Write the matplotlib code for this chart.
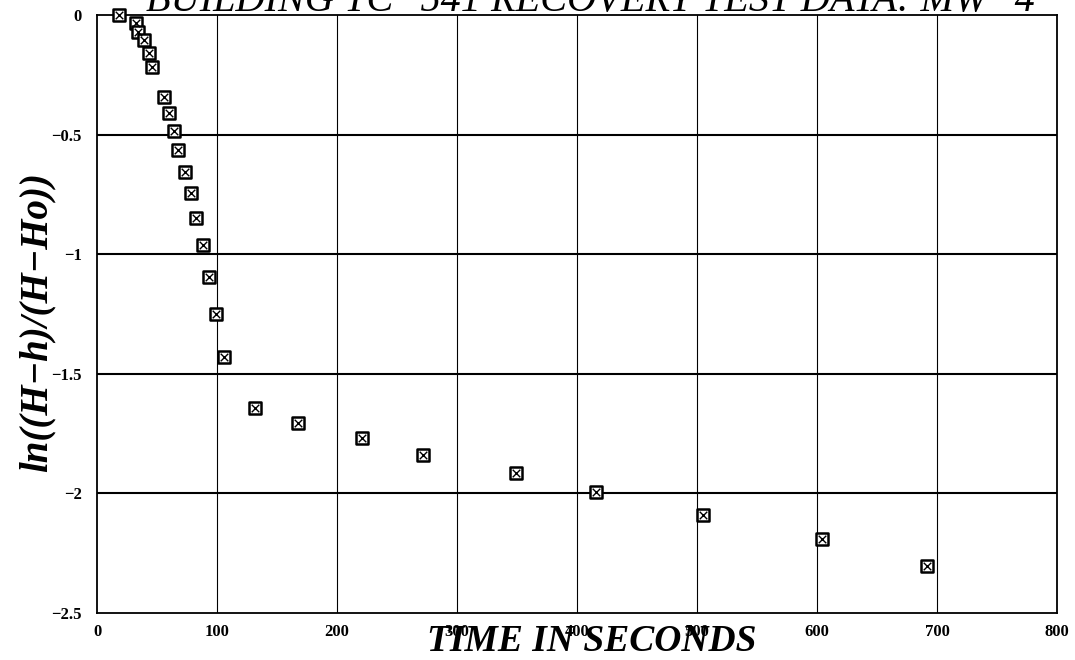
import matplotlib
matplotlib.use("Agg")
import matplotlib.pyplot as plt

time_s = [18, 32.5, 34.5, 38.8, 43.2, 45.6, 56.2, 59.8, 64.5, 67.5, 73.7, 78.0,
          82.5, 88.4, 93.1, 99.2, 105.6, 132, 167.8, 220.6, 271.4, 349, 416,
          505.2, 604, 691.4]
ln_ratio = [0.0, -0.032, -0.07, -0.105, -0.16, -0.219, -0.342, -0.411, -0.484,
            -0.565, -0.655, -0.744, -0.85, -0.962, -1.097, -1.248, -1.428,
            -1.644, -1.704, -1.769, -1.839, -1.913, -1.996, -2.089, -2.19, -2.304]

x_ticks = [0, 100, 200, 300, 400, 500, 600, 700, 800]
y_ticks = [0, -0.5, -1, -1.5, -2, -2.5]
y_tick_labels = ["0", "\u22120.5", "\u22121", "\u22121.5", "\u22122", "\u22122.5"]

title = "BUILDING TC\u2212541 RECOVERY TEST DATA: MW\u22124"
xlabel = "TIME IN SECONDS"
ylabel = "ln((H\u2212h)/(H\u2212Ho))"

serif = ["Liberation Serif", "DejaVu Serif"]

fig = plt.figure(figsize=(10.75, 6.6), dpi=100)
ax = fig.add_axes([97 / 1075, 1 - 613 / 660, (1057 - 97) / 1075, (613 - 15) / 660])

ax.set_xlim(0, 800)
ax.set_ylim(-2.5, 0)
ax.set_xticks(x_ticks)
ax.set_yticks(y_ticks)
ax.set_xticklabels([str(t) for t in x_ticks], fontfamily=serif, fontweight="bold", fontsize=12)
ax.set_yticklabels(y_tick_labels, fontfamily=serif, fontweight="bold", fontsize=12)
ax.tick_params(axis="both", length=0)
ax.tick_params(axis="x", pad=8)
ax.tick_params(axis="y", pad=11)

for t in x_ticks[1:-1]:
    ax.axvline(t, color="black", lw=0.8, zorder=1)
for t in y_ticks[1:-1]:
    ax.axhline(t, color="black", lw=1.5, zorder=1)
for s in ax.spines.values():
    s.set_linewidth(1.3)
    s.set_color("black")

ax.scatter(time_s, ln_ratio, marker="s", s=70, facecolors="white",
           edgecolors="black", linewidths=1.8, zorder=3, clip_on=False)
ax.scatter(time_s, ln_ratio, marker="x", s=30, color="black",
           linewidths=1.0, zorder=4, clip_on=False)

fig.text(590 / 1075, 1 - 11 / 660, title, ha="center", va="baseline",
         fontfamily=serif, fontstyle="italic", fontsize=29)
fig.text(592 / 1075, 1 - 651 / 660, xlabel, ha="center", va="baseline",
         fontfamily=serif, fontstyle="italic", fontweight="bold", fontsize=27)
fig.text(37 / 1075, 1 - 322 / 660, ylabel, ha="center", va="center", rotation=90,
         fontfamily=serif, fontstyle="italic", fontweight="bold", fontsize=28)

fig.savefig("out.png", dpi=100)
